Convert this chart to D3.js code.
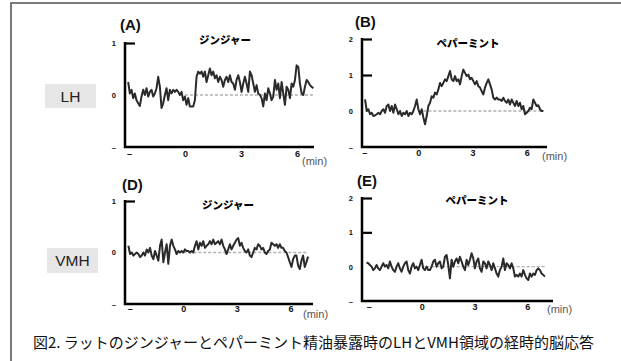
<!DOCTYPE html>
<html><head><meta charset="utf-8">
<script src="https://cdn.jsdelivr.net/npm/d3@7"></script>
<style>
body{margin:0;background:#fff;}
svg{display:block;}
</style></head>
<body>
<svg id="c" width="621" height="361"></svg>
<script>
// ---------- data ----------
const xTickValues = [-3, 0, 3, 6];
const xTickLabels = ["–", "0", "3", "6"];
const yTicksGinger = [1, 0, -1];
const yTickLabelsGinger = ["1", "0", "–"];
const yTicksPepper = [2, 1, 0, -1];
const yTickLabelsPepper = ["2", "1", "0", "–"];
const regions = ["LH", "VMH"];
const oils = ["ジンジャー", "ペパーミント"];
const panelLabels = ["(A)", "(B)", "(D)", "(E)"];
const caption = "図2. ラットのジンジャーとペパーミント精油暴露時のLHとVMH領域の経時的脳応答";

// sampling: start time (min) and interval (min)
const startA = -3.04, stepA = 0.0893;
const valuesA = [0.25,0.03,0.10,-0.06,0.03,-0.10,-0.16,-0.21,-0.03,0.10,0.00,0.13,-0.03,0.06,0.10,-0.03,0.03,0.13,0.35,0.16,
-0.25,-0.16,0.00,0.13,-0.10,0.10,0.03,0.10,0.06,0.10,0.06,0.00,0.06,-0.10,-0.03,-0.19,-0.06,-0.22,-0.22,-0.22,
-0.10,0.35,0.45,0.41,0.45,0.35,0.45,0.25,0.38,0.51,0.38,0.45,0.32,0.38,0.25,0.35,0.29,0.16,0.29,0.35,
0.25,0.38,0.25,0.22,0.10,0.29,0.38,0.25,0.06,0.22,0.35,0.22,0.06,0.45,0.38,0.22,0.06,0.19,0.03,0.00,
-0.06,-0.22,0.03,-0.10,0.13,0.03,-0.10,-0.03,0.29,0.10,0.22,-0.06,0.25,0.03,-0.19,0.16,0.10,-0.06,0.22,0.16,
0.29,0.57,0.54,0.22,0.03,0.00,0.16,0.29,0.25,0.19,0.16,0.13];

const startB = -2.95, stepB = 0.0922;
const valuesB = [0.32,0.00,0.05,-0.09,-0.05,-0.14,-0.12,-0.09,-0.05,-0.09,0.00,0.05,-0.05,0.14,0.18,0.00,0.14,-0.05,0.18,0.05,
-0.09,0.00,-0.14,-0.05,-0.09,0.00,-0.14,-0.05,-0.09,0.00,0.14,0.32,0.05,-0.09,0.05,-0.18,-0.37,-0.14,0.14,0.23,
0.41,0.37,0.51,0.46,0.60,0.78,0.69,0.78,0.88,0.83,0.97,1.11,0.88,0.83,0.97,0.83,0.88,0.74,0.97,1.15,
1.06,0.97,1.01,0.88,0.92,0.83,0.74,0.83,0.69,0.65,0.55,0.46,0.65,0.78,0.88,0.74,0.60,0.37,0.32,0.37,
0.32,0.32,0.28,0.37,0.28,0.23,0.32,0.18,0.32,0.23,0.14,0.28,0.14,0.23,0.05,0.14,-0.09,-0.05,0.00,0.09,
0.05,0.32,0.23,0.14,0.16,0.05,0.00,0.00];

const startD = -3.07, stepD = 0.0931;
const valuesD = [0.13,-0.03,0.00,-0.06,-0.03,0.00,-0.03,-0.09,-0.06,0.00,-0.06,0.06,0.00,0.09,-0.06,-0.13,0.03,-0.06,-0.16,0.13,
0.25,-0.19,0.00,0.16,-0.22,0.13,0.25,0.13,0.06,-0.03,0.03,0.00,0.03,0.00,0.06,0.03,0.03,0.00,0.03,0.00,
0.13,0.22,0.06,0.19,0.13,0.22,0.09,0.13,0.16,0.22,0.16,0.25,0.16,0.19,0.22,0.16,0.25,0.13,0.06,-0.03,
0.06,0.16,0.06,0.13,0.19,0.25,0.28,0.13,0.19,0.09,0.03,0.00,0.06,-0.06,-0.09,0.00,0.09,0.06,0.16,0.13,
0.06,0.09,0.00,-0.03,0.03,0.06,0.19,0.16,0.13,0.16,0.09,0.16,0.09,0.09,0.03,0.00,-0.09,-0.19,-0.28,-0.13,
-0.06,-0.06,-0.25,-0.32,-0.16,-0.06,-0.28,-0.19,-0.08];

const startE = -3.13, stepE = 0.0947;
const valuesE = [0.12,0.10,0.05,0.00,-0.10,-0.05,0.05,-0.05,-0.10,0.00,0.10,0.00,0.05,-0.05,0.15,0.00,-0.10,-0.15,0.00,0.10,
-0.05,-0.15,0.00,0.10,0.15,-0.10,-0.20,0.00,0.10,-0.05,0.00,-0.10,0.05,0.20,-0.05,-0.10,0.00,-0.10,-0.10,0.00,
0.15,0.20,0.00,0.10,0.15,-0.05,0.00,0.29,0.34,0.05,-0.34,0.20,0.00,0.15,0.24,0.10,0.29,0.15,0.00,-0.10,
0.20,0.05,0.20,0.39,0.24,-0.05,0.15,0.24,-0.05,-0.15,0.15,0.10,-0.05,0.15,0.05,-0.10,0.10,-0.05,-0.20,-0.29,
-0.10,0.00,0.24,-0.10,0.10,0.05,-0.05,0.10,-0.05,-0.29,-0.24,-0.29,-0.20,-0.29,-0.10,-0.24,-0.34,-0.39,-0.20,-0.29,
-0.20,-0.24,-0.10,-0.05,-0.10,-0.20,-0.24,-0.29];

// ---------- layout ----------
const panels = [
  {label:panelLabels[0], title:oils[0], start:startA, step:stepA, values:valuesA, yT:yTicksGinger, yL:yTickLabelsGinger, marks:[1],
   left:125, right:314, top:43, bottom:147, tDom:[-3.21,6.91], yDom:[-1,1],
   lab:[120,30], tit:[225,43.5], xlabY:150.5, min:[302,165], dashFrom:0, dashTo:6.88},
  {label:panelLabels[1], title:oils[1], start:startB, step:stepB, values:valuesB, yT:yTicksPepper, yL:yTickLabelsPepper, marks:[2,1],
   left:362, right:547, top:39, bottom:147, tDom:[-3.12,7.12], yDom:[-1,2],
   lab:[355,27], tit:[468,47], xlabY:149.5, min:[542,160], dashFrom:0, dashTo:6.95},
  {label:panelLabels[2], title:oils[0], start:startD, step:stepD, values:valuesD, yT:yTicksGinger, yL:yTickLabelsGinger, marks:[1],
   left:125, right:313, top:201, bottom:304, tDom:[-3.26,7.26], yDom:[-1,1],
   lab:[122,190], tit:[228,209], xlabY:306, min:[303,318], dashFrom:0, dashTo:7.0},
  {label:panelLabels[3], title:oils[1], start:startE, step:stepE, values:valuesE, yT:yTicksPepper, yL:yTickLabelsPepper, marks:[2,1],
   left:362, right:553, top:198, bottom:301, tDom:[-3.39,7.46], yDom:[-1,2],
   lab:[357,186], tit:[477,204], xlabY:303.5, min:[547,313], dashFrom:0, dashTo:7.1}
];

const svg = d3.select("#c");
const latin = "'Liberation Sans', Arial, sans-serif";
const cjk = "'Noto Sans CJK JP', sans-serif";

// frame
svg.append("line").attr("x1",11).attr("x2",11).attr("y1",3).attr("y2",361).attr("stroke","#7a7a7a").attr("stroke-width",2);
svg.append("line").attr("x1",10).attr("x2",621).attr("y1",3).attr("y2",3).attr("stroke","#7a7a7a").attr("stroke-width",2);

// region labels
const regionBoxes = [{x:45,y:84,w:51,h:24},{x:47,y:248,w:51,h:25}];
regions.forEach((r,i)=>{
  const b = regionBoxes[i];
  svg.append("rect").attr("x",b.x).attr("y",b.y).attr("width",b.w).attr("height",b.h).attr("fill","#e6e6e6");
  svg.append("text").attr("x",b.x+b.w/2).attr("y",b.y+b.h/2+5.5).attr("text-anchor","middle")
    .attr("font-family",latin).attr("font-size",15.5).attr("fill","#222").text(r);
});

panels.forEach(p=>{
  const g = svg.append("g");
  const x = d3.scaleLinear().domain(p.tDom).range([p.left,p.right]);
  const y = d3.scaleLinear().domain(p.yDom).range([p.bottom,p.top]);

  // zero dashed line
  g.append("line").attr("x1",x(p.dashFrom)).attr("x2",x(p.dashTo)).attr("y1",y(0)).attr("y2",y(0))
    .attr("stroke","#b0b0b0").attr("stroke-width",1.3).attr("stroke-dasharray","3,2");

  // trace
  const pts = p.values.map((v,i)=>[p.start + i*p.step, v]);
  g.append("path").datum(pts)
    .attr("d", d3.line().x(d=>x(d[0])).y(d=>y(d[1])))
    .attr("fill","none").attr("stroke","#2a2a2a").attr("stroke-width",2).attr("stroke-linejoin","round");

  // y axis labels
  const ya = g.append("g").attr("transform",`translate(${p.left},0)`)
    .call(d3.axisLeft(y).tickValues(p.yT).tickSize(0).tickPadding(9).tickFormat((d,i)=>p.yL[i]));
  ya.select(".domain").remove();
  ya.selectAll("text").attr("font-family",latin).attr("font-size",7.5).attr("font-weight","bold").attr("fill","#111");

  // y tick marks (pointing right)
  const ym = g.append("g").attr("transform",`translate(${p.left},0)`)
    .call(d3.axisRight(y).tickValues(p.marks).tickSize(10).tickFormat(""));
  ym.select(".domain").remove();
  ym.selectAll("line").attr("stroke","#000").attr("stroke-width",2.2);

  // x axis labels
  const xa = g.append("g").attr("transform",`translate(0,${p.xlabY})`)
    .call(d3.axisBottom(x).tickValues(xTickValues).tickSize(0).tickPadding(0).tickFormat((d,i)=>xTickLabels[i]));
  xa.select(".domain").remove();
  xa.selectAll("text").attr("font-family",latin).attr("font-size",9).attr("font-weight","bold").attr("fill","#111");

  // axis lines
  g.append("path").attr("d",`M${p.left},${p.top-1}V${p.bottom}H${p.right}`)
    .attr("fill","none").attr("stroke","#000").attr("stroke-width",2.5);

  // (min)
  g.append("text").attr("x",p.min[0]).attr("y",p.min[1]).attr("font-family",latin).attr("font-size",11)
    .attr("fill","#555").text("(min)");
  // panel label
  g.append("text").attr("x",p.lab[0]).attr("y",p.lab[1]).attr("font-family",latin).attr("font-size",15)
    .attr("font-weight","bold").attr("fill","#111").text(p.label);
  // title
  g.append("text").attr("x",p.tit[0]).attr("y",p.tit[1]).attr("text-anchor","middle").attr("font-family",cjk)
    .attr("font-size",10.5).attr("font-weight",900).attr("fill","#000").text(p.title);
});

// caption
svg.append("text").attr("x",33).attr("y",348).attr("font-family",cjk).attr("font-size",15)
  .attr("fill","#111").text(caption);
</script>
</body></html>
